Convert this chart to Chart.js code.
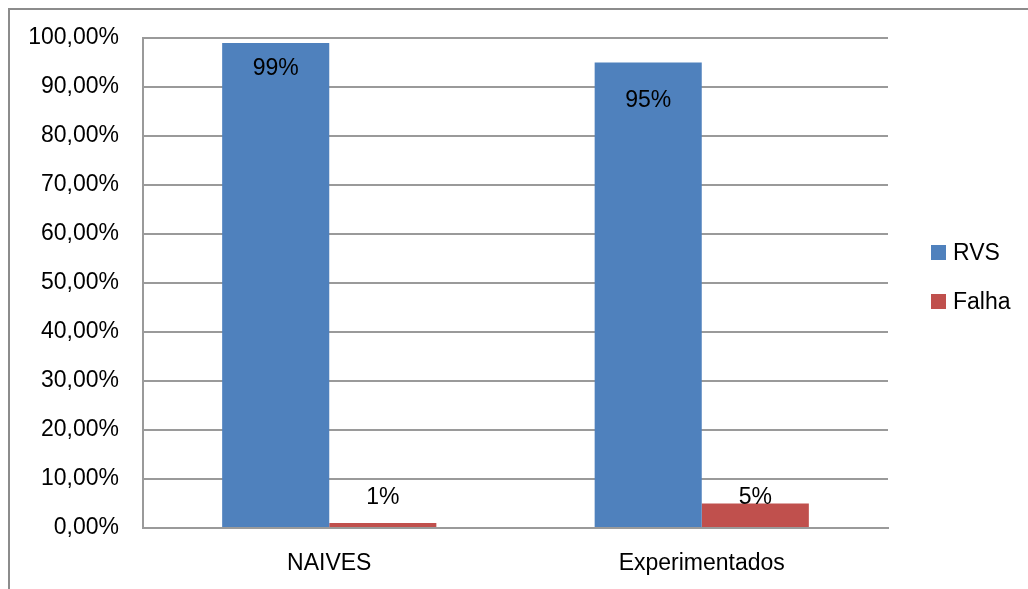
<!DOCTYPE html>
<html>
<head>
<meta charset="utf-8">
<title>RVS x Falha</title>
<script src="https://cdn.jsdelivr.net/npm/chart.js@4.4.1/dist/chart.umd.min.js"></script>
<style>
  html, body { margin: 0; padding: 0; background: #fff; overflow: hidden; }
  #wrap { position: relative; width: 1028px; height: 589px; overflow: hidden; }
  #frame {
    position: absolute; left: 8px; top: 8px; width: 1100px; height: 620px;
    border: 2px solid #8c8c8c; box-sizing: border-box;
  }
  #chart { position: absolute; left: 0; top: 0; }
</style>
</head>
<body>
<div id="wrap">
  <div id="frame"></div>
  <canvas id="chart" width="1028" height="589"></canvas>
</div>
<script>
// Groups and series
const categories = ['NAIVES', 'Experimentados'];
const rvsValues = [0.99, 0.95];
const falhaValues = [0.01, 0.05];
const seriesNames = ['RVS', 'Falha'];
const seriesColors = ['#4F81BD', '#C0504D'];

// Axis ticks: 0% .. 100% every 10%
const yMin = 0;
const yMax = 1;
const yStep = 0.1;

// Vertical nudge (px) for each value label, per series then per point
const labelOffsets = [[26, 38], [-25, -6]];

const FONT = '"Liberation Sans", Arial, sans-serif';
const FONT_SIZE = 23;
const GRID_COLOR = '#9a9a9a';

function formatAxis(v) {
    return (v * 100).toFixed(2).replace('.', ',') + '%';
}

function formatLabel(v) {
    return Math.round(v * 100) + '%';
}

// Percentage labels drawn over the bars
const valueLabels = {
    id: 'valueLabels',
    afterDatasetsDraw(chart) {
        const ctx = chart.ctx;
        ctx.save();
        ctx.font = FONT_SIZE + 'px ' + FONT;
        ctx.fillStyle = '#000';
        ctx.textAlign = 'center';
        ctx.textBaseline = 'middle';
        chart.data.datasets.forEach((ds, di) => {
            chart.getDatasetMeta(di).data.forEach((bar, i) => {
                ctx.fillText(formatLabel(ds.data[i]), bar.x, bar.y + labelOffsets[di][i]);
            });
        });
        ctx.restore();
    }
};

// Legend on the right, one square per series
const sideLegend = {
    id: 'sideLegend',
    afterDraw(chart) {
        const ctx = chart.ctx;
        const area = chart.chartArea;
        const box = 15;
        const rowGap = 49;
        const x = area.right + 43;
        const firstY = (area.top + area.bottom) / 2 - rowGap / 2 - 6;
        ctx.save();
        ctx.font = FONT_SIZE + 'px ' + FONT;
        ctx.textBaseline = 'middle';
        ctx.textAlign = 'left';
        chart.data.datasets.forEach((ds, di) => {
            const cy = firstY + di * rowGap;
            ctx.fillStyle = ds.backgroundColor;
            ctx.fillRect(x, cy - box / 2, box, box);
            ctx.fillStyle = '#000';
            ctx.fillText(ds.label, x + box + 7, cy + 1);
        });
        ctx.restore();
    }
};

const chartData = {
    labels: categories,
    datasets: [
        {
            label: seriesNames[0],
            data: rvsValues,
            backgroundColor: seriesColors[0],
            categoryPercentage: 0.575,
            barPercentage: 1.0
        },
        {
            label: seriesNames[1],
            data: falhaValues,
            backgroundColor: seriesColors[1],
            categoryPercentage: 0.575,
            barPercentage: 1.0
        }
    ]
};

const options = {
    responsive: false,
    animation: false,
    layout: {
        padding: { top: 38, right: 140, bottom: 0, left: 0 }
    },
    scales: {
        x: {
            grid: { display: false, drawTicks: false },
            border: { display: true, color: GRID_COLOR, width: 2 },
            ticks: {
                color: '#000',
                font: { family: FONT, size: FONT_SIZE },
                padding: 22
            },
            afterFit(scale) { scale.height = 61; }
        },
        y: {
            min: yMin,
            max: yMax,
            grid: { color: GRID_COLOR, lineWidth: 2, drawTicks: false },
            border: { display: true, color: GRID_COLOR, width: 2 },
            ticks: {
                stepSize: yStep,
                color: '#000',
                font: { family: FONT, size: FONT_SIZE },
                padding: 24,
                callback: v => formatAxis(v)
            },
            afterFit(scale) { scale.width = 143; }
        }
    },
    plugins: {
        legend: { display: false },
        tooltip: { enabled: false }
    }
};

new Chart(document.getElementById('chart').getContext('2d'), {
    type: 'bar',
    data: chartData,
    options: options,
    plugins: [valueLabels, sideLegend]
});
</script>
</body>
</html>
